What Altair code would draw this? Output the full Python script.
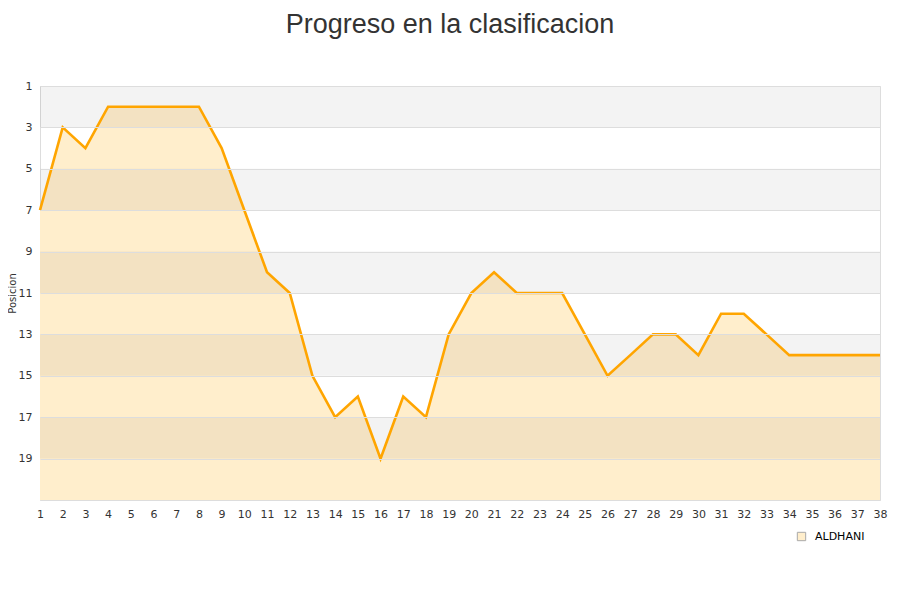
import altair as alt
import pandas as pd

jornadas = list(range(1, 39))
posiciones = [7, 3, 4, 2, 2, 2, 2, 2, 4, 7, 10, 11, 15, 17, 16, 19, 16, 17, 13, 11,
              10, 11, 11, 11, 13, 15, 14, 13, 13, 14, 12, 12, 13, 14, 14, 14, 14, 14]
equipo = "ALDHANI"
band_starts = [1, 5, 9, 13, 17]
y_ticks = [1, 3, 5, 7, 9, 11, 13, 15, 17, 19]

df = pd.DataFrame({"jornada": jornadas, "pos": posiciones, "equipo": equipo, "base": 21})
bands = pd.DataFrame({"y1": band_starts, "y2": [b + 2 for b in band_starts]})

yscale = alt.Scale(domain=[1, 21], reverse=True, nice=False, zero=False)
xscale = alt.Scale(domain=[1, 38], nice=False, zero=False)

xaxis = alt.Axis(values=jornadas, title=None, ticks=False, grid=False,
                 domainColor="#dddddd", labelFontSize=11, labelColor="#333333",
                 labelFont="DejaVu Sans", labelPadding=8, labelFlush=False,
                 labelOverlap=False, labelBound=False)
yaxis = alt.Axis(values=y_ticks, title="Posicion", ticks=False, domain=False,
                 grid=True, gridColor="#dddddd", labelPadding=8, zindex=1,
                 labelFontSize=11, labelColor="#333333", labelFont="DejaVu Sans",
                 labelOverlap=False,
                 titleFont="DejaVu Sans", titleFontSize=10, titleFontWeight="normal",
                 titleColor="#333333", titlePadding=1)

area = alt.Chart(df).mark_area(opacity=1, line=False).encode(
    x=alt.X("jornada:Q", scale=xscale, axis=xaxis),
    y=alt.Y("pos:Q", scale=yscale, axis=yaxis),
    y2="base:Q",
    color=alt.Color("equipo:N", scale=alt.Scale(domain=[equipo], range=["#ffeecc"]),
                    legend=alt.Legend(title=None, orient="none", legendX=756, legendY=445,
                                      symbolType="square", symbolSize=70,
                                      symbolStrokeColor="#aaaaaa", symbolStrokeWidth=1,
                                      labelOffset=8,
                                      labelFontSize=11, labelColor="#000000",
                                      labelFont="DejaVu Sans")),
)

band_layer = alt.Chart(bands).mark_rect(color="#000000", opacity=0.047).encode(
    x=alt.value(0), x2=alt.value(840),
    y=alt.Y("y1:Q", scale=yscale, axis=yaxis),
    y2="y2:Q",
)

line = alt.Chart(df).mark_line(color="#ffa500", strokeWidth=2.6).encode(
    x=alt.X("jornada:Q", scale=xscale, axis=xaxis),
    y=alt.Y("pos:Q", scale=yscale, axis=yaxis),
)

chart = alt.layer(area, band_layer, line).properties(
    width=840, height=414,
    autosize=alt.AutoSizeParams(type="none"),
    padding={"left": 32, "top": 78, "right": 12, "bottom": 86},
    title=alt.TitleParams("Progreso en la clasificacion", fontSize=27, fontWeight="normal",
                          font="Liberation Sans", color="#333333", dx=-10, offset=41),
).configure_view(stroke="#dddddd", strokeWidth=1).configure_axis(labelOverlap=False)

chart.save("out.html", embed_options={"renderer": "svg", "actions": False})
